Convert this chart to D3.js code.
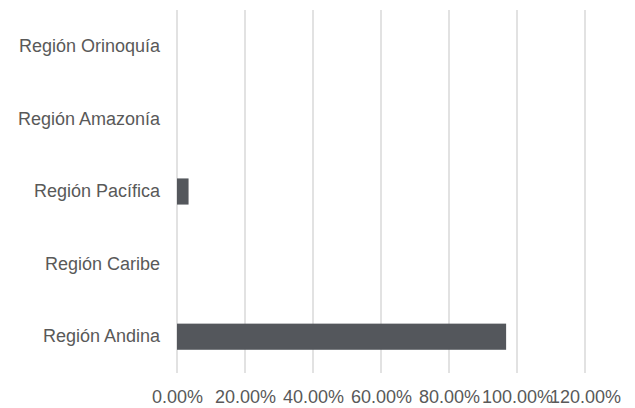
<!DOCTYPE html>
<html>
<meta charset="utf-8">
<head>
    <script src="https://d3js.org/d3.v7.min.js"></script>
    <style>
        body { margin: 0; background: #fff; }
        text { font-family: "Liberation Sans", Arial, sans-serif; fill: #595959; }
    </style>
</head>
<body>
<div id="chart"></div>
<script>

var regions = ["Región Orinoquía", "Región Amazonía", "Región Pacífica", "Región Caribe", "Región Andina"];
var shares = [0, 0, 0.034, 0, 0.968];
var ticks = [0, 0.2, 0.4, 0.6, 0.8, 1.0, 1.2];

var width = 635, height = 408;
var margin = {top: 10, right: 50, bottom: 35, left: 177};

var svg = d3.select("#chart").append("svg")
    .attr("width", width)
    .attr("height", height);

var x = d3.scaleLinear()
    .domain([0, 1.2])
    .range([margin.left, width - margin.right]);

var y = d3.scaleBand()
    .domain(regions)
    .range([margin.top, height - margin.bottom])
    .paddingInner(0.64)
    .paddingOuter(0.32);

// gridlines
svg.selectAll("line.grid")
    .data(ticks)
    .enter()
    .append("line")
    .attr("class", "grid")
    .attr("x1", function(d){ return x(d); })
    .attr("x2", function(d){ return x(d); })
    .attr("y1", margin.top)
    .attr("y2", height - margin.bottom)
    .attr("stroke", "#d9d9d9")
    .attr("stroke-width", 1.5);

// bars
svg.selectAll("rect")
    .data(regions)
    .enter()
    .append("rect")
    .attr("x", x(0))
    .attr("y", function(d){ return y(d); })
    .attr("width", function(d, i){ return x(shares[i]) - x(0); })
    .attr("height", y.bandwidth())
    .attr("fill", "#54575c");

// x axis labels
var xAxis = d3.axisBottom(x)
    .tickValues(ticks)
    .tickSize(0)
    .tickPadding(17)
    .tickFormat(d3.format(".2%"));

var gx = svg.append("g")
    .attr("transform", "translate(0," + (height - margin.bottom) + ")")
    .call(xAxis);
gx.select(".domain").remove();
gx.selectAll("text").style("font-size", "18px").attr("fill", null);

// y axis labels
var yAxis = d3.axisLeft(y)
    .tickSize(0)
    .tickPadding(17);

var gy = svg.append("g")
    .attr("transform", "translate(" + margin.left + ",0)")
    .call(yAxis);
gy.select(".domain").remove();
gy.selectAll("text").style("font-size", "18px").attr("fill", null);

</script>
</body>
</html>
